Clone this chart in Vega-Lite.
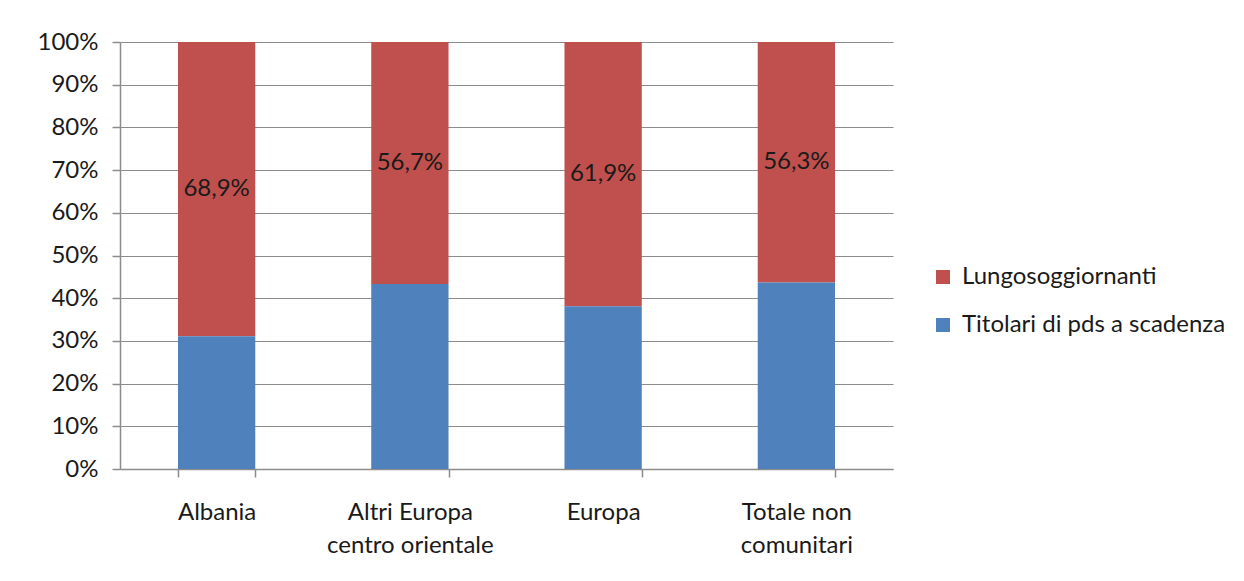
{
  "$schema": "https://vega.github.io/schema/vega-lite/v6.json",
  "width": 773,
  "height": 427,
  "autosize": {"type": "none"},
  "padding": {"left": 120, "top": 42, "right": 351, "bottom": 112},
  "background": "white",
  "config": {
    "font": "Lato",
    "view": {"stroke": null},
    "axis": {"labelFont": "Lato", "labelFontSize": 24, "labelColor": "#1a1a1a", "domainColor": "#8c8c8c", "tickColor": "#8c8c8c", "gridColor": "#8c8c8c", "domainWidth": 1.5, "tickWidth": 1.5, "gridWidth": 1.2},
    "legend": {"labelFont": "Lato", "labelFontSize": 24, "labelColor": "#1a1a1a", "labelLimit": 400}
  },
  "data": {
    "values": [
      {"area": "Albania", "series": "Lungosoggiornanti", "value": 68.9},
      {"area": "Albania", "series": "Titolari di pds a scadenza", "value": 31.1},
      {"area": "Altri Europa centro orientale", "series": "Lungosoggiornanti", "value": 56.7},
      {"area": "Altri Europa centro orientale", "series": "Titolari di pds a scadenza", "value": 43.3},
      {"area": "Europa", "series": "Lungosoggiornanti", "value": 61.9},
      {"area": "Europa", "series": "Titolari di pds a scadenza", "value": 38.1},
      {"area": "Totale non comunitari", "series": "Lungosoggiornanti", "value": 56.3},
      {"area": "Totale non comunitari", "series": "Titolari di pds a scadenza", "value": 43.7}
    ]
  },
  "encoding": {
    "x": {
      "field": "area", "type": "nominal", "sort": null,
      "scale": {"paddingInner": 0.6, "paddingOuter": 0.3},
      "axis": {
        "title": null, "labelAngle": 0, "tickBand": "extent", "tickSize": 8, "labelPadding": 23,
        "labelLineHeight": 33, "labelBaseline": "top",
        "labelExpr": "datum.label == 'Altri Europa centro orientale' ? ['Altri Europa', 'centro orientale'] : datum.label == 'Totale non comunitari' ? ['Totale non', 'comunitari'] : datum.label"
      }
    }
  },
  "layer": [
    {
      "mark": {"type": "bar"},
      "encoding": {
        "y": {
          "field": "value", "type": "quantitative", "stack": "zero",
          "scale": {"domain": [0, 100], "nice": false},
          "axis": {"title": null, "values": [0,10,20,30,40,50,60,70,80,90,100], "labelExpr": "datum.value + '%'", "tickSize": 8, "labelPadding": 14, "grid": true}
        },
        "color": {
          "field": "series", "type": "nominal",
          "scale": {"domain": ["Lungosoggiornanti", "Titolari di pds a scadenza"], "range": ["#C0504D", "#4F81BD"]},
          "legend": {"title": null, "orient": "none", "legendX": 811, "legendY": 223, "symbolType": "square", "symbolSize": 196, "symbolStrokeWidth": 0, "rowPadding": 24, "labelOffset": 7, "padding": 0}
        },
        "order": {"field": "series", "sort": "descending"}
      }
    },
    {
      "transform": [
        {"stack": "value", "groupby": ["area"], "sort": [{"field": "series", "order": "descending"}], "as": ["v0", "v1"]},
        {"filter": "datum.series == 'Lungosoggiornanti'"},
        {"calculate": "(datum.v0 + datum.v1) / 2", "as": "mid"},
        {"calculate": "replace(format(datum.value, '.1f'), '.', ',') + '%'", "as": "lbl"}
      ],
      "mark": {"type": "text", "font": "Lato", "fontSize": 24, "color": "#1a1a1a", "baseline": "middle"},
      "encoding": {
        "y": {"field": "mid", "type": "quantitative"},
        "text": {"field": "lbl"}
      }
    }
  ]
}
